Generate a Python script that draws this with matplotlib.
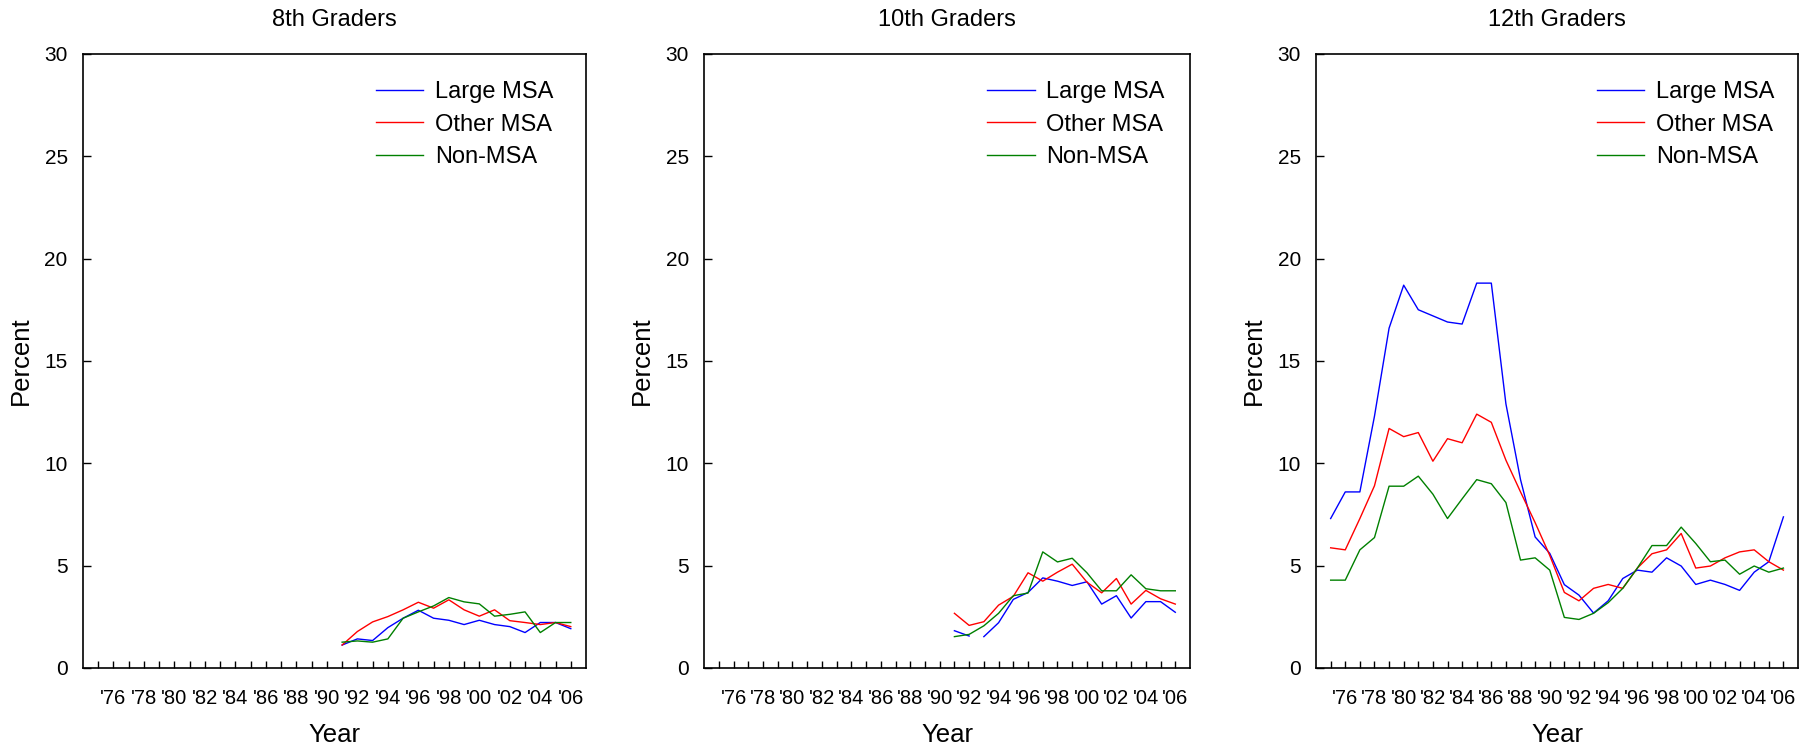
import numpy as np
import matplotlib
matplotlib.use("Agg")
import matplotlib.pyplot as plt

plt.rcParams['font.family'] = ['Liberation Sans', 'DejaVu Sans']

# x axis: survey years
YEARS_ALL = list(range(1975, 2007))
YEARS_8_10 = list(range(1991, 2007))
TICK_YEARS = list(range(1975, 2007))
TICK_LABELS = ["'%02d" % (y % 100) if y % 2 == 0 else "" for y in TICK_YEARS]

SERIES = ['Large MSA', 'Other MSA', 'Non-MSA']
COLORS = ['#0000ff', '#ff0000', '#008000']
TITLES = ['8th Graders', '10th Graders', '12th Graders']

# 8th graders, 1991-2006
g8_large = [1.12, 1.42, 1.34, 1.97, 2.43, 2.82, 2.43, 2.33, 2.12, 2.33, 2.12, 2.02, 1.73, 2.22, 2.22, 1.92]
g8_other = [1.12, 1.78, 2.25, 2.51, 2.84, 3.21, 2.92, 3.33, 2.84, 2.53, 2.84, 2.31, 2.22, 2.12, 2.22, 2.02]
g8_non = [1.26, 1.32, 1.26, 1.42, 2.43, 2.74, 3.03, 3.44, 3.23, 3.13, 2.53, 2.62, 2.74, 1.73, 2.22, 2.22]

# 10th graders, 1991-2006 (Large MSA line is broken between 1992 and 1993)
g10_large = [1.82, 1.56, 1.53, 2.21, 3.35, 3.69, 4.40, 4.24, 4.03, 4.21, 3.12, 3.53, 2.44, 3.24, 3.24, 2.72]
g10_other = [2.67, 2.08, 2.26, 3.07, 3.50, 4.65, 4.24, 4.68, 5.07, 4.19, 3.67, 4.37, 3.12, 3.79, 3.38, 3.12]
g10_non = [1.53, 1.64, 2.06, 2.67, 3.53, 3.66, 5.67, 5.18, 5.36, 4.65, 3.77, 3.77, 4.55, 3.87, 3.77, 3.77]
G10_BREAK = 1993

# 12th graders, 1975-2006
g12_large = [7.30, 8.60, 8.60, 12.3, 16.6, 18.7, 17.5, 17.2, 16.9, 16.8, 18.8, 18.8,
             12.9, 9.2, 6.4, 5.6, 4.07, 3.56, 2.68, 3.28, 4.37, 4.78, 4.68, 5.38,
             4.98, 4.08, 4.29, 4.08, 3.79, 4.68, 5.19, 7.38]
g12_other = [5.87, 5.77, 7.30, 8.9, 11.7, 11.3, 11.5, 10.1, 11.2, 11.0, 12.4, 12.0,
             10.15, 8.6, 7.1, 5.5, 3.69, 3.28, 3.89, 4.08, 3.89, 4.88, 5.58, 5.77,
             6.57, 4.88, 4.98, 5.38, 5.67, 5.77, 5.19, 4.78]
g12_non = [4.29, 4.29, 5.77, 6.37, 8.88, 8.88, 9.37, 8.49, 7.30, 8.26, 9.20, 9.00,
           8.08, 5.27, 5.38, 4.78, 2.47, 2.37, 2.67, 3.19, 3.89, 4.88, 5.98, 5.98,
           6.88, 6.08, 5.19, 5.27, 4.58, 4.98, 4.68, 4.88]

fig = plt.figure(figsize=(18.16, 7.48), dpi=100)
axes_pos = [[0.0457, 0.107, 0.2770, 0.821],
            [0.3877, 0.107, 0.2676, 0.821],
            [0.7247, 0.107, 0.2654, 0.821]]
axs = [fig.add_axes(p) for p in axes_pos]

panels = [
    (YEARS_8_10, [g8_large, g8_other, g8_non]),
    (YEARS_8_10, [g10_large, g10_other, g10_non]),
    (YEARS_ALL, [g12_large, g12_other, g12_non]),
]

for k, ax in enumerate(axs):
    years, data = panels[k]
    yrs = np.array(years)
    for s in range(3):
        vals = np.array(data[s])
        if k == 1 and s == 0:
            m = yrs < G10_BREAK
            ax.plot(yrs[m], vals[m], color=COLORS[s], lw=1.0)
            ax.plot(yrs[~m], vals[~m], color=COLORS[s], lw=1.0, label=SERIES[s])
        else:
            ax.plot(yrs, vals, color=COLORS[s], lw=1.0, label=SERIES[s])

    ax.set_xlim(1974, 2007)
    ax.set_ylim(0, 30)
    ax.set_yticks(range(0, 31, 5))
    ax.set_xticks(TICK_YEARS)
    ax.set_xticklabels(TICK_LABELS, fontsize=14.5)
    ax.tick_params(axis='x', direction='in', length=5, width=1, pad=15)
    ax.tick_params(axis='y', direction='in', length=6, width=1, pad=11, labelsize=15)
    for sp in ax.spines.values():
        sp.set_linewidth(1.2)
    ax.set_title(TITLES[k], fontsize=17, pad=20)
    ax.set_xlabel('Year', fontsize=18.5, labelpad=11)
    ax.set_ylabel('Percent', fontsize=18.5, labelpad=8)
    ax.legend(loc='upper left', bbox_to_anchor=(0.583, 0.955), frameon=False,
              fontsize=17, handlelength=2.0, handletextpad=0.5, labelspacing=0.43,
              borderpad=0, borderaxespad=0)

fig.savefig('out.png', dpi=100)
